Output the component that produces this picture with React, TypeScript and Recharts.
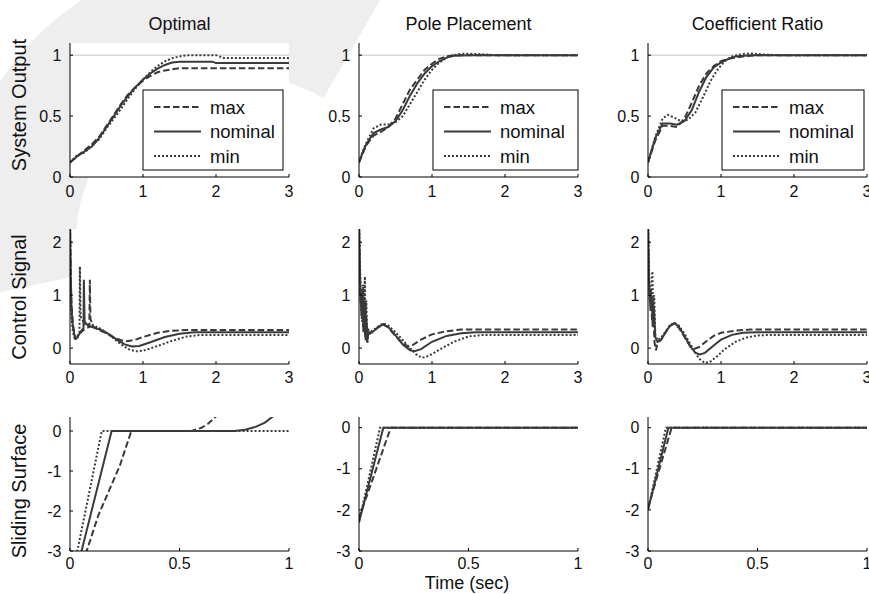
import React from 'react';
import { LineChart, Line, XAxis, YAxis, ReferenceLine, CartesianGrid } from 'recharts';

type Pt = [number, number];

// ---- column / row names ----
const methods = ['Optimal', 'Pole Placement', 'Coefficient Ratio'];
const rowNames = ['System Output', 'Control Signal', 'Sliding Surface'];
const seriesNames = ['max', 'nominal', 'min'];

// ---- axis ticks ----
const timeTicksLong = [0, 1, 2, 3];
const timeTicksShort = [0, 0.5, 1];
const outputTicks = [0, 0.5, 1];
const controlTicks = [0, 1, 2];
const surfaceTicks = [-3, -2, -1, 0];

// ---- system output, [time, value] ----
const optOutMax: Pt[] = [[0, 0.12], [0.1, 0.17], [0.2, 0.22], [0.3, 0.27], [0.4, 0.33], [0.5, 0.42], [0.6, 0.51], [0.7, 0.6], [0.8, 0.68], [0.9, 0.74], [1.0, 0.79], [1.1, 0.83], [1.2, 0.86], [1.3, 0.875], [1.4, 0.885], [1.5, 0.893], [3, 0.893]];
const optOutNom: Pt[] = [[0, 0.12], [0.1, 0.17], [0.2, 0.21], [0.3, 0.25], [0.4, 0.32], [0.5, 0.41], [0.6, 0.5], [0.7, 0.59], [0.8, 0.67], [0.9, 0.74], [1.0, 0.8], [1.1, 0.85], [1.2, 0.89], [1.3, 0.92], [1.4, 0.94], [1.5, 0.947], [1.95, 0.947], [2.0, 0.935], [3, 0.935]];
const optOutMin: Pt[] = [[0, 0.12], [0.1, 0.18], [0.2, 0.2], [0.3, 0.26], [0.4, 0.31], [0.5, 0.4], [0.6, 0.48], [0.7, 0.56], [0.8, 0.65], [0.9, 0.73], [1.0, 0.8], [1.1, 0.86], [1.2, 0.91], [1.3, 0.95], [1.4, 0.975], [1.5, 0.99], [1.6, 1.0], [2.0, 1.0], [2.1, 0.977], [3, 0.977]];

const poleOutMax: Pt[] = [[0, 0.12], [0.05, 0.19], [0.1, 0.26], [0.2, 0.34], [0.3, 0.37], [0.4, 0.41], [0.5, 0.48], [0.6, 0.6], [0.7, 0.72], [0.8, 0.8], [0.9, 0.88], [1.0, 0.93], [1.1, 0.97], [1.2, 0.99], [1.3, 1.0], [3, 1.0]];
const poleOutNom: Pt[] = [[0, 0.12], [0.05, 0.2], [0.1, 0.27], [0.2, 0.36], [0.3, 0.39], [0.4, 0.41], [0.5, 0.46], [0.6, 0.55], [0.7, 0.67], [0.8, 0.77], [0.9, 0.85], [1.0, 0.91], [1.1, 0.95], [1.2, 0.98], [1.3, 0.995], [1.5, 1.0], [3, 1.0]];
const poleOutMin: Pt[] = [[0, 0.12], [0.05, 0.21], [0.1, 0.28], [0.2, 0.4], [0.3, 0.43], [0.4, 0.43], [0.5, 0.45], [0.6, 0.5], [0.7, 0.6], [0.8, 0.7], [0.9, 0.8], [1.0, 0.88], [1.1, 0.94], [1.2, 0.98], [1.3, 1.0], [1.4, 1.012], [1.6, 1.01], [1.9, 1.0], [3, 1.0]];

const coefOutMax: Pt[] = [[0, 0.12], [0.1, 0.3], [0.2, 0.42], [0.3, 0.42], [0.4, 0.41], [0.5, 0.48], [0.6, 0.61], [0.7, 0.75], [0.8, 0.85], [0.9, 0.91], [1.0, 0.95], [1.1, 0.97], [1.2, 0.98], [1.3, 0.99], [1.5, 1.0], [3, 1.0]];
const coefOutNom: Pt[] = [[0, 0.12], [0.1, 0.32], [0.2, 0.44], [0.3, 0.44], [0.4, 0.43], [0.5, 0.46], [0.6, 0.55], [0.7, 0.7], [0.8, 0.82], [0.9, 0.9], [1.0, 0.94], [1.1, 0.97], [1.2, 0.99], [1.4, 1.0], [3, 1.0]];
const coefOutMin: Pt[] = [[0, 0.12], [0.1, 0.33], [0.2, 0.48], [0.27, 0.51], [0.35, 0.49], [0.45, 0.46], [0.55, 0.47], [0.65, 0.53], [0.75, 0.65], [0.85, 0.78], [0.95, 0.88], [1.05, 0.95], [1.15, 0.99], [1.3, 1.01], [1.4, 1.015], [1.6, 1.005], [1.8, 1.0], [3, 1.0]];

// ---- control signal ----
const optCtlMax: Pt[] = [[0, 2.4], [0.01, 1.4], [0.02, 0.85], [0.04, 0.45], [0.07, 0.2], [0.1, 0.2], [0.15, 0.3], [0.2, 0.36], [0.265, 0.4], [0.272, 1.29], [0.28, 0.55], [0.32, 0.4], [0.4, 0.34], [0.5, 0.28], [0.6, 0.2], [0.7, 0.15], [0.78, 0.13], [0.9, 0.16], [1.0, 0.21], [1.2, 0.29], [1.4, 0.33], [1.6, 0.34], [3, 0.34]];
const optCtlNom: Pt[] = [[0, 2.4], [0.01, 1.3], [0.02, 0.75], [0.04, 0.4], [0.07, 0.18], [0.1, 0.2], [0.14, 0.3], [0.185, 0.38], [0.19, 1.29], [0.2, 0.5], [0.25, 0.42], [0.35, 0.38], [0.45, 0.33], [0.55, 0.25], [0.65, 0.15], [0.75, 0.07], [0.85, 0.03], [0.95, 0.04], [1.1, 0.11], [1.3, 0.21], [1.5, 0.27], [1.7, 0.3], [3, 0.3]];
const optCtlMin: Pt[] = [[0, 2.4], [0.01, 1.1], [0.02, 0.6], [0.04, 0.3], [0.07, 0.15], [0.1, 0.22], [0.13, 0.3], [0.135, 1.54], [0.145, 0.6], [0.2, 0.45], [0.3, 0.44], [0.4, 0.38], [0.5, 0.29], [0.6, 0.18], [0.7, 0.07], [0.8, -0.02], [0.9, -0.06], [1.0, -0.05], [1.2, 0.04], [1.4, 0.14], [1.6, 0.22], [1.8, 0.25], [3, 0.25]];

const poleCtlMax: Pt[] = [[0, 2.4], [0.01, 1.5], [0.025, 0.8], [0.04, 1.0], [0.055, 0.4], [0.07, 0.8], [0.085, 0.2], [0.1, 0.5], [0.12, 0.25], [0.18, 0.3], [0.25, 0.38], [0.33, 0.45], [0.4, 0.39], [0.5, 0.23], [0.6, 0.09], [0.68, 0.03], [0.75, 0.07], [0.85, 0.16], [1.0, 0.26], [1.2, 0.32], [1.4, 0.35], [3, 0.35]];
const poleCtlNom: Pt[] = [[0, 2.4], [0.01, 1.7], [0.02, 1.0], [0.035, 0.6], [0.05, 1.1], [0.06, 0.3], [0.075, 0.9], [0.09, 0.15], [0.1, 0.6], [0.11, 0.12], [0.13, 0.3], [0.18, 0.3], [0.25, 0.38], [0.33, 0.45], [0.4, 0.4], [0.5, 0.24], [0.6, 0.07], [0.7, -0.04], [0.76, -0.06], [0.85, -0.02], [1.0, 0.12], [1.2, 0.23], [1.4, 0.28], [1.6, 0.3], [3, 0.3]];
const poleCtlMin: Pt[] = [[0, 2.4], [0.01, 1.8], [0.02, 1.2], [0.04, 0.5], [0.055, 1.2], [0.065, 0.4], [0.08, 1.35], [0.09, 0.3], [0.1, 0.9], [0.115, 0.1], [0.13, 0.35], [0.18, 0.32], [0.25, 0.4], [0.33, 0.47], [0.4, 0.43], [0.5, 0.3], [0.6, 0.15], [0.7, 0.0], [0.8, -0.14], [0.87, -0.18], [0.95, -0.15], [1.1, -0.03], [1.3, 0.12], [1.5, 0.22], [1.7, 0.25], [3, 0.25]];

const coefCtlMax: Pt[] = [[0, 2.4], [0.01, 1.4], [0.025, 0.9], [0.04, 1.1], [0.055, 0.5], [0.07, 0.7], [0.09, 0.1], [0.11, -0.04], [0.13, 0.1], [0.18, 0.16], [0.25, 0.32], [0.3, 0.42], [0.35, 0.46], [0.42, 0.39], [0.5, 0.21], [0.58, 0.03], [0.64, -0.01], [0.7, 0.02], [0.8, 0.13], [0.9, 0.23], [1.0, 0.29], [1.2, 0.33], [1.4, 0.35], [3, 0.35]];
const coefCtlNom: Pt[] = [[0, 2.4], [0.01, 1.6], [0.02, 1.1], [0.035, 0.7], [0.05, 1.0], [0.065, 0.4], [0.08, 0.8], [0.1, 0.2], [0.13, 0.12], [0.18, 0.16], [0.25, 0.32], [0.3, 0.42], [0.36, 0.47], [0.42, 0.41], [0.5, 0.23], [0.58, 0.03], [0.65, -0.09], [0.71, -0.12], [0.78, -0.09], [0.9, 0.05], [1.0, 0.16], [1.15, 0.25], [1.3, 0.29], [1.5, 0.3], [3, 0.3]];
const coefCtlMin: Pt[] = [[0, 2.4], [0.01, 1.8], [0.02, 1.2], [0.04, 0.8], [0.06, 1.45], [0.07, 0.6], [0.085, 1.0], [0.1, 0.25], [0.13, 0.15], [0.18, 0.2], [0.25, 0.33], [0.3, 0.43], [0.36, 0.48], [0.42, 0.43], [0.5, 0.27], [0.6, 0.03], [0.7, -0.2], [0.78, -0.28], [0.85, -0.26], [0.95, -0.15], [1.05, -0.02], [1.2, 0.12], [1.35, 0.2], [1.5, 0.24], [1.7, 0.25], [3, 0.25]];

// ---- sliding surface ----
const optSurfMax: Pt[] = [[0, -4.2], [0.076, -3.0], [0.13, -2.1], [0.228, -0.86], [0.28, 0], [0.555, 0], [0.6, 0.08], [0.63, 0.18], [0.67, 0.38]];
const optSurfNom: Pt[] = [[0, -4.15], [0.19, 0], [0.75, 0], [0.8, 0.03], [0.85, 0.11], [0.89, 0.21], [0.93, 0.38]];
const optSurfMin: Pt[] = [[0, -3.9], [0.145, 0], [1, 0]];

const poleSurfMax: Pt[] = [[0, -2.2], [0.145, 0], [1, 0]];
const poleSurfNom: Pt[] = [[0, -2.3], [0.111, 0], [1, 0]];
const poleSurfMin: Pt[] = [[0, -2.3], [0.096, 0], [1, 0]];

const coefSurfMax: Pt[] = [[0, -1.95], [0.108, 0], [1, 0]];
const coefSurfNom: Pt[] = [[0, -2.0], [0.093, 0], [1, 0]];
const coefSurfMin: Pt[] = [[0, -2.0], [0.082, 0], [1, 0]];

// ---- layout ----
const INK = '#3a3a3a';
const FONT = '"Liberation Sans", Arial, Helvetica, sans-serif';
const PW = 219;
const colLeft = [70, 359, 648];
const rowTop = [43, 229, 417];
const rowH = [134, 135, 134];
const xLabelGap = [11.5, 10.7, 9.2];
const dash = ['6.5 3', undefined, '2 2'];
const legendBox = [
  { x: 143, w: 140 },
  { x: 433, w: 145 },
  { x: 722, w: 142 },
];

const toRows = (pts: Pt[]) => pts.map(([t, v]) => ({ t, v }));
const noLabel = () => null;

interface PanelProps {
  col: number;
  row: number;
  xDomain: [number, number];
  xTicks: number[];
  yDomain: [number, number];
  yTicks: number[];
  series: Pt[][];
  refOne?: boolean;
}

function Panel({ col, row, xDomain, xTicks, yDomain, yTicks, series, refOne }: PanelProps) {
  const YW = 60, TP = 2, RP = 14, XH = 30;
  const h = rowH[row];
  const tickStyle = { fontSize: 16, fill: '#111' };
  return (
    <div style={{ position: 'absolute', left: colLeft[col] - YW, top: rowTop[row] - TP }}>
      <LineChart width={YW + PW + RP} height={TP + h + XH} margin={{ top: TP, right: RP, bottom: 0, left: 0 }}>
        <CartesianGrid xAxisId="b" yAxisId="l" horizontal={false} vertical={false} fill="#fff" />
        <XAxis xAxisId="b" dataKey="t" type="number" domain={xDomain} ticks={xTicks} allowDataOverflow interval={0}
          height={XH} tickSize={-3} tickMargin={xLabelGap[row]} stroke="#000" tick={tickStyle} />
        <XAxis xAxisId="t" orientation="top" type="number" domain={xDomain} ticks={xTicks} allowDataOverflow interval={0}
          height={0} tickSize={-3} stroke="#000" tick={noLabel} />
        <YAxis yAxisId="l" type="number" domain={yDomain} ticks={yTicks} allowDataOverflow interval={0}
          width={YW} tickSize={-3} tickMargin={11.5} stroke="#000" tick={tickStyle} />
        <YAxis yAxisId="r" orientation="right" type="number" domain={yDomain} ticks={yTicks} allowDataOverflow interval={0}
          width={0} tickSize={-3} stroke="#000" tick={noLabel} />
        {refOne && <ReferenceLine xAxisId="b" yAxisId="l" y={1} stroke="#c4c4c4" strokeWidth={1} />}
        {series.map((s, i) => (
          <Line key={seriesNames[i]} xAxisId="b" yAxisId="l" data={toRows(s)} dataKey="v" name={seriesNames[i]}
            type="linear" stroke={INK} strokeWidth={2} strokeDasharray={dash[i]} dot={false} isAnimationActive={false} />
        ))}
      </LineChart>
    </div>
  );
}

// faint watermark band behind the figure
function Watermark() {
  const cx = 241, cy = 241, R = 289, r = 165;
  const p = (rad: number, deg: number) => {
    const a = (deg * Math.PI) / 180;
    return `${cx + rad * Math.cos(a)} ${cy + rad * Math.sin(a)}`;
  };
  const a0 = 168, a1 = 300;
  const d = `M ${p(R, a0)} A ${R} ${R} 0 0 1 ${p(R, a1)} L ${p(r, a1)} A ${r} ${r} 0 0 0 ${p(r, a0)} Z`;
  return (
    <svg width={869} height={594} style={{ position: 'absolute', left: 0, top: 0 }}>
      <path d={d} fill="#eeeeee" />
    </svg>
  );
}

export default function App() {
  const longT: [number, number] = [0, 3];
  const shortT: [number, number] = [0, 1];
  return (
    <div style={{ position: 'absolute', left: 0, top: 0, width: 869, height: 594, overflow: 'hidden', background: '#fff', fontFamily: FONT }}>
      <Watermark />

      <Panel col={0} row={0} xDomain={longT} xTicks={timeTicksLong} yDomain={[0, 1.1]} yTicks={outputTicks} series={[optOutMax, optOutNom, optOutMin]} refOne />
      <Panel col={1} row={0} xDomain={longT} xTicks={timeTicksLong} yDomain={[0, 1.1]} yTicks={outputTicks} series={[poleOutMax, poleOutNom, poleOutMin]} refOne />
      <Panel col={2} row={0} xDomain={longT} xTicks={timeTicksLong} yDomain={[0, 1.1]} yTicks={outputTicks} series={[coefOutMax, coefOutNom, coefOutMin]} refOne />

      <Panel col={0} row={1} xDomain={longT} xTicks={timeTicksLong} yDomain={[-0.3, 2.25]} yTicks={controlTicks} series={[optCtlMax, optCtlNom, optCtlMin]} />
      <Panel col={1} row={1} xDomain={longT} xTicks={timeTicksLong} yDomain={[-0.3, 2.25]} yTicks={controlTicks} series={[poleCtlMax, poleCtlNom, poleCtlMin]} />
      <Panel col={2} row={1} xDomain={longT} xTicks={timeTicksLong} yDomain={[-0.3, 2.25]} yTicks={controlTicks} series={[coefCtlMax, coefCtlNom, coefCtlMin]} />

      <Panel col={0} row={2} xDomain={shortT} xTicks={timeTicksShort} yDomain={[-3, 0.35]} yTicks={surfaceTicks} series={[optSurfMax, optSurfNom, optSurfMin]} />
      <Panel col={1} row={2} xDomain={shortT} xTicks={timeTicksShort} yDomain={[-3, 0.26]} yTicks={surfaceTicks} series={[poleSurfMax, poleSurfNom, poleSurfMin]} />
      <Panel col={2} row={2} xDomain={shortT} xTicks={timeTicksShort} yDomain={[-3, 0.26]} yTicks={surfaceTicks} series={[coefSurfMax, coefSurfNom, coefSurfMin]} />

      <svg width={869} height={594} style={{ position: 'absolute', left: 0, top: 0, pointerEvents: 'none' }}>
        {methods.map((m, i) => (
          <text key={m} x={colLeft[i] + PW / 2} y={30} textAnchor="middle" fontSize={18} fill="#111">{m}</text>
        ))}
        {rowNames.map((n, i) => (
          <text key={n} transform={`translate(26 ${[105, 297, 491][i]}) rotate(-90)`} textAnchor="middle" fontSize={20} fill="#111">{n}</text>
        ))}
        <text x={467} y={589} textAnchor="middle" fontSize={18} fill="#111">Time (sec)</text>

        {legendBox.map((b, i) => (
          <g key={i}>
            <rect x={b.x} y={90} width={b.w} height={80} fill="#fff" stroke="#000" strokeWidth={1} />
            {seriesNames.map((s, j) => {
              const ly = [107, 131.5, 156][j];
              return (
                <g key={s}>
                  <line x1={b.x + 11} x2={b.x + 58} y1={ly} y2={ly} stroke={INK} strokeWidth={2} strokeDasharray={dash[j]} />
                  <text x={b.x + 67} y={ly + 6.5} fontSize={18.5} fill="#111">{s}</text>
                </g>
              );
            })}
          </g>
        ))}
      </svg>
    </div>
  );
}
